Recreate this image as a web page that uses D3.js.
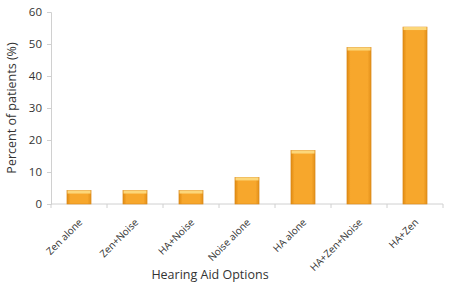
<!DOCTYPE html>
<html>
<head>
<meta charset="utf-8">
<script src="https://cdn.jsdelivr.net/npm/d3@7"></script>
<style>
body { margin: 0; background: #fff; }
text { font-family: "Open Sans", "Noto Sans", sans-serif; fill: #333; }
</style>
</head>
<body>
<div id="chart"></div>
<script>
var options = ['Zen alone', 'Zen+Noise', 'HA+Noise', 'Noise alone', 'HA alone', 'HA+Zen+Noise', 'HA+Zen'];
var percents = [4.2, 4.2, 4.2, 8.3, 16.7, 48.9, 55.3];
var yTicks = [0, 10, 20, 30, 40, 50, 60];

var width = 450, height = 289;
var margin = {left: 51, right: 7, top: 12, bottom: 85};

var svg = d3.select('#chart').append('svg')
	.attr('width', width)
	.attr('height', height);

var defs = svg.append('defs');
var grad = defs.append('linearGradient').attr('id', 'barGrad')
	.attr('x1', '0').attr('x2', '1').attr('y1', '0').attr('y2', '0');
grad.append('stop').attr('offset', '0').attr('stop-color', '#e08a12');
grad.append('stop').attr('offset', '0.15').attr('stop-color', '#f7a72c');
grad.append('stop').attr('offset', '0.85').attr('stop-color', '#f7a72c');
grad.append('stop').attr('offset', '1').attr('stop-color', '#e3901a');

var xScale = d3.scaleBand()
	.domain(options)
	.range([margin.left, width - margin.right])
	.paddingInner(0.57)
	.paddingOuter(0.285);

var yScale = d3.scaleLinear()
	.domain([0, 60])
	.range([height - margin.bottom, margin.top]);

// y axis
var yAxis = svg.append('g')
	.attr('transform', 'translate(' + margin.left + ',0)')
	.call(d3.axisLeft(yScale).tickValues(yTicks).tickSize(4).tickPadding(5));
yAxis.select('.domain').attr('stroke', '#d0d0d0');
yAxis.selectAll('.tick line').attr('stroke', '#d0d0d0');
yAxis.selectAll('.tick text').style('font-size', '11.5px').attr('fill', '#333');

// x axis with ticks between categories
var step = xScale.step();
var xAxisG = svg.append('g').attr('transform', 'translate(0,' + yScale(0) + ')');
xAxisG.append('line')
	.attr('x1', margin.left).attr('x2', width - margin.right)
	.attr('stroke', '#d0d0d0');
xAxisG.selectAll('.bt')
	.data(d3.range(options.length + 1))
	.enter()
	.append('line')
	.attr('x1', d => margin.left + d * step)
	.attr('x2', d => margin.left + d * step)
	.attr('y1', 0).attr('y2', 4)
	.attr('stroke', '#d0d0d0');

xAxisG.selectAll('.xlabel')
	.data(options)
	.enter()
	.append('text')
	.attr('transform', d => 'translate(' + (xScale(d) + xScale.bandwidth() / 2 + 4) + ',19) rotate(-45)')
	.attr('text-anchor', 'end')
	.style('font-size', '10px')
	.text(d => d);

// bars
var bars = svg.append('g').selectAll('g')
	.data(options)
	.enter()
	.append('g');

bars.append('rect')
	.attr('x', d => xScale(d))
	.attr('y', (d, i) => yScale(percents[i]))
	.attr('width', xScale.bandwidth())
	.attr('height', (d, i) => yScale(0) - yScale(percents[i]))
	.attr('fill', 'url(#barGrad)')
	.attr('stroke', '#d9881a')
	.attr('stroke-width', 0.6);

bars.append('rect')
	.attr('x', d => xScale(d) + 0.5)
	.attr('y', (d, i) => yScale(percents[i]))
	.attr('width', xScale.bandwidth() - 1)
	.attr('height', 3)
	.attr('fill', '#fcd77a');

// titles
svg.append('text')
	.attr('x', 210).attr('y', 279)
	.attr('text-anchor', 'middle')
	.style('font-size', '12.5px')
	.text('Hearing Aid Options');

svg.append('text')
	.attr('transform', 'translate(16,' + ((margin.top + yScale(0)) / 2) + ') rotate(-90)')
	.attr('text-anchor', 'middle')
	.style('font-size', '12.5px')
	.text('Percent of patients (%)');
</script>
</body>
</html>
